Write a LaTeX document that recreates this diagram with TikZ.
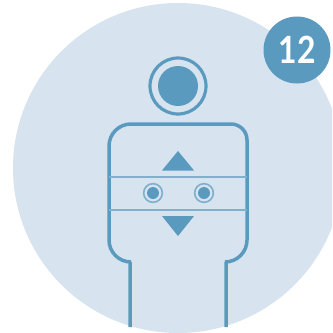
\documentclass[tikz,border=0pt]{standalone}
\usepackage{fontspec}
\setmainfont{Lato}
\usepackage{xcolor}
\usetikzlibrary{positioning}
\definecolor{paleblue}{HTML}{D7E3EE}
\definecolor{iconblue}{HTML}{5B9ABF}
\definecolor{ringblue}{HTML}{7FB0CE}

\begin{document}
\begin{tikzpicture}[
    x=0.03cm, y=-0.03cm,
    disc/.style={
      circle, draw=none, fill=#1, inner sep=0pt
    },
    disc/.default=iconblue,
    ring/.style={
      circle, draw=iconblue, fill=none, inner sep=0pt, line width=0.095cm
    },
    wedge/.style={fill=iconblue, draw=none},
    outline/.style={draw=iconblue, line width=0.105cm},
    rule/.style={draw=ringblue, line width=0.066cm},
  ]
  \useasboundingbox (0,0) rectangle (332,333);
  \clip (0,0) rectangle (332,333);

  %% background disc and number badge
  \node[disc=paleblue, minimum size=9.9cm] (backdrop) at (178,168) {};
  \node[disc, minimum size=2.01cm, text=white, font=\fontsize{32}{32}\selectfont\bfseries] (badge) at (297,50) {\scalebox{0.85}[1]{12}};

  %% head
  \node[ring, minimum size=1.68cm] (headring) at (178,86) {};
  \node[disc, minimum size=1.2cm] (headdot) at (178,86) {};

  %% body outline
  \draw[outline]
      (130,327) -- (130,262) [rounded corners=0.66cm] -- (109,262) -- (109,124)
      [rounded corners=0.48cm] -- (247,124)
      [rounded corners=0.66cm] -- (247,262) [sharp corners] -- (226,262) -- (226,327);

  %% band across the body
  \coordinate (bandnw) at (109,177);
  \coordinate (bandne) at (247,177);
  \coordinate (bandsw) at (109,210);
  \coordinate (bandse) at (247,210);
  \draw[rule] (bandnw) -- (bandne);
  \draw[rule] (bandsw) -- (bandse);

  %% arrows
  \fill[wedge] (178,151) -- (194,170.5) -- (162,170.5) -- cycle;
  \fill[wedge] (178,236) -- (194,216) -- (162,216) -- cycle;

  %% buttons
  \foreach \name/\px in {left/153, right/204} {
    \node[circle, draw=ringblue, line width=0.05cm, minimum size=0.56cm, inner sep=0pt] (\name ring) at (\px,193) {};
    \node[disc, minimum size=0.36cm] (\name dot) at (\px,193) {};
  }
\end{tikzpicture}
\end{document}
